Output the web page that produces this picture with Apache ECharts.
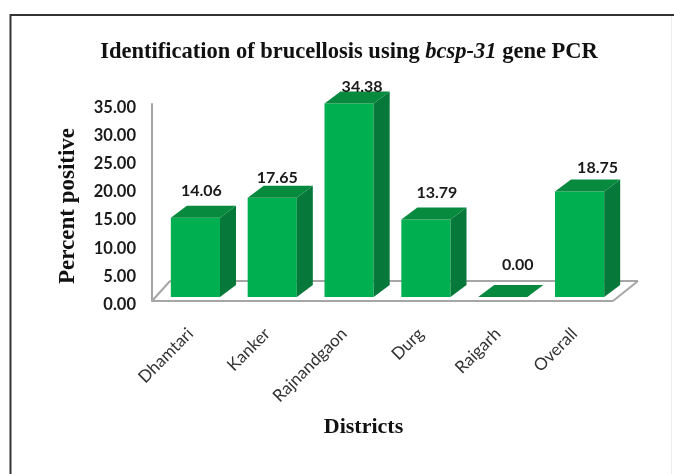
<!DOCTYPE html>
<html>
<head>
<meta charset="utf-8">
<style>html,body{margin:0;padding:0;background:#fff}#c{width:674px;height:474px}</style>
<script src="https://cdn.jsdelivr.net/npm/echarts@6/dist/echarts.min.js"></script>
</head>
<body>
<div id="c"></div>
<script>
// Brucellosis PCR positivity by district, drawn as pseudo-3D columns.
const districts = ['Dhamtari', 'Kanker', 'Rajnandgaon', 'Durg', 'Raigarh', 'Overall'];
const percentPositive = [14.06, 17.65, 34.38, 13.79, 0.00, 18.75];
// Per-column label nudge, so each value sits where it reads best.
const labelNudge = [[6, -15], [5, -8], [13, -5], [11, -15], [15, -20], [18, -12]];

const FRONT = '#00b050', TOP = '#078a3d', SIDE = '#06793a', RULE = '#a6a6a6', INK = '#1a1a1a';
const DEPTH_X = 16, DEPTH_Y = 12;      // receding edge of each column
const LIFT_X = 5, LIFT_Y = 4;          // columns stand inside the floor
const BAR_RATIO = 0.64;
const SANS = 'Lato, "Noto Sans", sans-serif';
const SERIF = '"Liberation Serif", "DejaVu Serif", serif';

function poly(points, fill) {
  return { type: 'polygon', shape: { points }, style: { fill } };
}

function drawColumn(params, api) {
  const i = api.value(0), v = api.value(1);
  const base = api.coord([i, 0]), top = api.coord([i, v]);
  const w = api.size([1, 0])[0] * BAR_RATIO;
  const x0 = base[0] + LIFT_X - w / 2, x1 = x0 + w;
  const yb = base[1] - LIFT_Y, yt = top[1] - LIFT_Y;
  const children = [];
  if (v > 0) {
    children.push({ type: 'rect', shape: { x: x0, y: yt, width: w, height: yb - yt }, style: { fill: FRONT } });
    children.push(poly([[x1, yt], [x1 + DEPTH_X, yt - DEPTH_Y], [x1 + DEPTH_X, yb - DEPTH_Y], [x1, yb]], SIDE));
  }
  children.push(poly([[x0, yt], [x0 + DEPTH_X, yt - DEPTH_Y], [x1 + DEPTH_X, yt - DEPTH_Y], [x1, yt]], TOP));
  const n = labelNudge[i];
  children.push({
    type: 'text',
    style: {
      text: v.toFixed(2), x: base[0] + LIFT_X + n[0], y: yt - DEPTH_Y + n[1],
      align: 'center', verticalAlign: 'middle',
      font: 'bold 16px ' + SANS, fill: INK
    }
  });
  return { type: 'group', children };
}

// Floor and back edge of the plot.
function drawFloor(params) {
  const c = params.coordSys;
  const L = c.x, R = c.x + c.width, B = c.y + c.height;
  const BD = 20;
  const line = (x1, y1, x2, y2) => ({
    type: 'line', shape: { x1, y1, x2, y2 }, style: { stroke: RULE, lineWidth: 2 }
  });
  return {
    type: 'group',
    children: [
      line(L + 18, B - BD, R + 25, B - BD),
      line(L, B, L + 18, B - BD),
      line(R, B, R + 25, B - BD),
      line(L, B, R, B)
    ]
  };
}

const chart = echarts.init(document.getElementById('c'), null, { renderer: 'canvas' });
const titleRun = { fontFamily: SERIF, fontWeight: 'bold', fontSize: 22.5, color: '#111' };
chart.setOption({
  animation: false,
  backgroundColor: '#fff',
  graphic: [
    {
      type: 'polyline', z: -1,
      shape: { points: [[10.5, 474], [10.5, 15], [674, 15]] },
      style: { fill: 'none', stroke: '#333', lineWidth: 2 }
    },
    {
      type: 'line', z: -1,
      shape: { x1: 671.5, y1: 16, x2: 671.5, y2: 474 },
      style: { stroke: '#eeeeee', lineWidth: 1 }
    }
  ],
  title: {
    left: 344, top: 36, textAlign: 'center',
    text: '{b|Identification of brucellosis using }{i|bcsp-31}{b| gene PCR}',
    textStyle: {
      rich: { b: titleRun, i: Object.assign({}, titleRun, { fontStyle: 'italic' }) }
    }
  },
  grid: { left: 152, right: 61, top: 104, bottom: 173 },
  xAxis: {
    type: 'category', data: districts,
    axisLine: { show: false }, axisTick: { show: false },
    axisLabel: { rotate: 45, interval: 0, margin: 30, color: '#333', fontFamily: SANS, fontSize: 17 },
    name: 'Districts', nameLocation: 'middle', nameGap: 115,
    nameTextStyle: { fontFamily: SERIF, fontWeight: 'bold', fontSize: 22, color: '#111', padding: [0, 38, 0, 0] }
  },
  yAxis: {
    type: 'value', min: 0, max: 35, interval: 5,
    axisLine: { show: true, lineStyle: { color: RULE, width: 2 } },
    axisTick: { show: false }, splitLine: { show: false },
    axisLabel: {
      margin: 16,
      formatter: v => '{t|' + v.toFixed(2) + '}',
      rich: { t: { color: INK, fontFamily: SANS, fontWeight: 'bold', fontSize: 16.5, padding: [7, 0, 0, 0] } }
    },
    name: 'Percent positive', nameLocation: 'middle', nameGap: 72,
    nameTextStyle: { fontFamily: SERIF, fontWeight: 'bold', fontSize: 23, color: '#111', padding: [0, 7, 0, 0] }
  },
  series: [
    { type: 'custom', silent: true, z: 1, clip: false, renderItem: drawFloor, data: [[0, 0]] },
    { type: 'custom', silent: true, z: 2, clip: false, renderItem: drawColumn,
      encode: { x: 0, y: 1 }, data: percentPositive.map((v, i) => [i, v]) }
  ]
});
</script>
</body>
</html>
